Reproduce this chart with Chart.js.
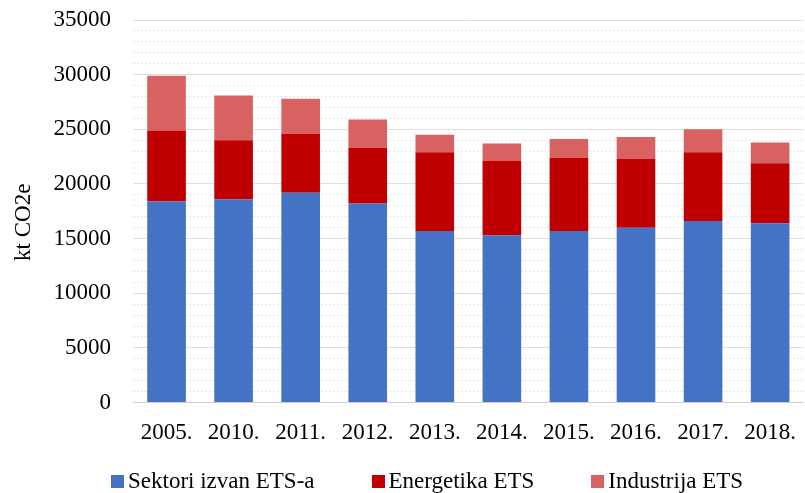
<!DOCTYPE html>
<html>
<head>
<meta charset="utf-8">
<script src="https://cdn.jsdelivr.net/npm/chart.js@4"></script>
<style>
  html, body { margin: 0; padding: 0; background: #fff; }
  #wrap { position: relative; width: 805px; height: 493px; }
  #legenda {
    position: absolute; left: 111px; top: 469px;
    display: flex; align-items: center;
    font-family: 'Liberation Serif', 'Times New Roman', serif; font-size: 23px; line-height: 24px; color: #000;
  }
  #legenda .item { display: flex; align-items: center; margin-right: 57px; white-space: nowrap; }
  #legenda .box { width: 13px; height: 13px; margin-right: 4px; }
</style>
</head>
<body>
<div id="wrap">
  <canvas id="emisije"></canvas>
  <div id="legenda"></div>
</div>
<script>
const godine = ['2005.', '2010.', '2011.', '2012.', '2013.', '2014.', '2015.', '2016.', '2017.', '2018.'];
const sektoriIzvanETS = [18400, 18600, 19200, 18200, 15700, 15300, 15700, 16000, 16600, 16400];
const energetikaETS = [6500, 5400, 5400, 5100, 7200, 6800, 6700, 6300, 6300, 5500];
const industrijaETS = [5000, 4100, 3200, 2600, 1600, 1600, 1700, 2000, 2100, 1900];
const yMax = 35000;

const serif = "'Liberation Serif', 'Times New Roman', serif";
Chart.defaults.font.family = serif;
Chart.defaults.color = '#000';

// axis title drawn by hand so it can sit a bit below the middle, like in Excel
const yTitle = {
    id: 'yTitle',
    afterDraw(chart) {
        const c = chart.ctx;
        const area = chart.chartArea;
        c.save();
        c.translate(24, (area.top + area.bottom) / 2 + 11);
        c.rotate(-Math.PI / 2);
        c.font = '23px ' + serif;
        c.fillStyle = '#000';
        c.textAlign = 'center';
        c.textBaseline = 'middle';
        c.fillText('kt CO2e', 0, 0);
        c.restore();
    }
};

// fixed width, and no extra top/bottom padding from the tick labels
function fixY(width) {
    return (scale) => {
        scale.width = width;
        scale.paddingTop = 0;
        scale.paddingBottom = 0;
    };
}

function drawChart() {
    const ctx = document.getElementById('emisije').getContext('2d');
    const chart = new Chart(ctx, {
        type: 'bar',
        data: {
            labels: godine,
            datasets: [
                { label: 'Sektori izvan ETS-a', data: sektoriIzvanETS, backgroundColor: '#4472C4' },
                { label: 'Energetika ETS', data: energetikaETS, backgroundColor: '#C00000' },
                { label: 'Industrija ETS', data: industrijaETS, backgroundColor: '#D86262' }
            ]
        },
        options: {
            responsive: true,
            maintainAspectRatio: false,
            animation: false,
            layout: { padding: { top: 20, right: 0, bottom: 30, left: 0 } },
            datasets: { bar: { categoryPercentage: 0.576, barPercentage: 1 } },
            plugins: {
                tooltip: { enabled: false },
                legend: { display: false }
            },
            scales: {
                x: {
                    stacked: true,
                    afterFit: (scale) => { scale.height = 60.5; },
                    grid: { display: false },
                    border: { color: '#D0D0D0', width: 1 },
                    ticks: { font: { size: 23 }, color: '#000', padding: 9 }
                },
                y: {
                    stacked: true,
                    min: 0,
                    max: yMax,
                    afterFit: fixY(133),
                    ticks: {
                        stepSize: 5000,
                        font: { size: 23 },
                        color: '#000',
                        padding: 22,
                        callback: (v) => String(v)
                    },
                    grid: { color: '#D9D9D9', drawTicks: false },
                    border: { display: false }
                },
                minor: {
                    position: 'left',
                    min: 0,
                    max: yMax,
                    afterFit: fixY(0),
                    ticks: { display: false, stepSize: 1000 },
                    grid: { color: '#E6E6E6', drawTicks: false },
                    border: { display: false, dash: [2, 2] }
                }
            }
        },
        plugins: [yTitle]
    });

    const legenda = document.getElementById('legenda');
    chart.data.datasets.forEach((ds) => {
        const item = document.createElement('span');
        item.className = 'item';
        const box = document.createElement('span');
        box.className = 'box';
        box.style.background = ds.backgroundColor;
        item.appendChild(box);
        item.appendChild(document.createTextNode(ds.label));
        legenda.appendChild(item);
    });
}

window.onload = function () {
    drawChart();
};
</script>
</body>
</html>
